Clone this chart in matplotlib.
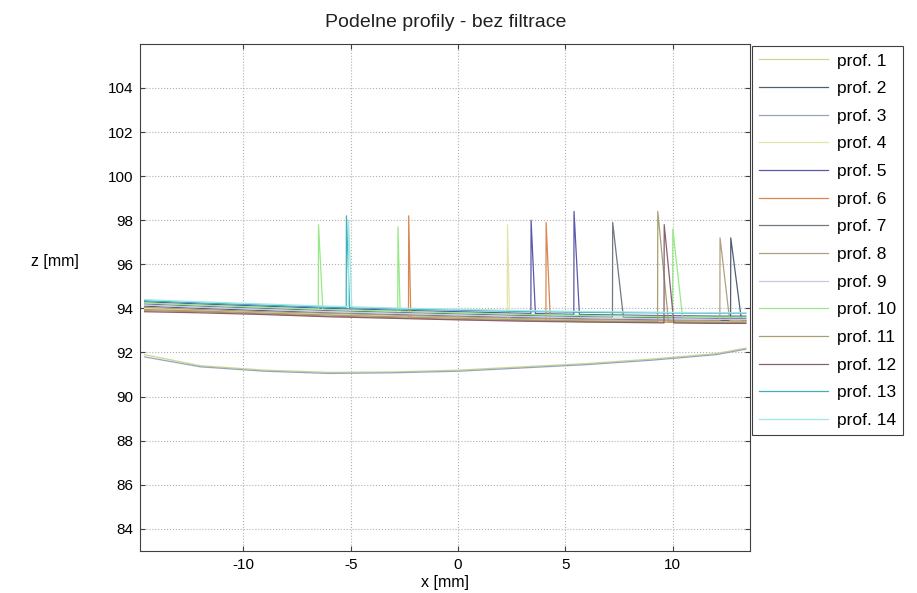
import numpy as np
import matplotlib
matplotlib.use("Agg")
import matplotlib.pyplot as plt

plt.rcParams["font.family"] = ["Liberation Sans", "DejaVu Sans"]
plt.rcParams["axes.unicode_minus"] = False

# common x grid of the base profiles [mm]
X_GRID = [-14.6, -12.0, -9.0, -6.0, -3.0, 0.0, 3.0, 6.0, 9.0, 12.0, 13.4]

# base heights z [mm] per profile
Z_BASE = {
    "prof. 1":  [91.90, 91.40, 91.20, 91.10, 91.12, 91.20, 91.35, 91.50, 91.70, 91.95, 92.20],
    "prof. 2":  [94.10, 94.00, 93.90, 93.80, 93.72, 93.65, 93.58, 93.52, 93.48, 93.45, 93.45],
    "prof. 3":  [91.80, 91.35, 91.15, 91.05, 91.08, 91.15, 91.30, 91.45, 91.65, 91.90, 92.15],
    "prof. 4":  [94.00, 93.90, 93.80, 93.72, 93.65, 93.58, 93.50, 93.45, 93.40, 93.38, 93.40],
    "prof. 5":  [94.30, 94.20, 94.10, 94.00, 93.92, 93.85, 93.78, 93.72, 93.68, 93.65, 93.65],
    "prof. 6":  [93.90, 93.85, 93.75, 93.65, 93.58, 93.50, 93.45, 93.40, 93.38, 93.35, 93.35],
    "prof. 7":  [94.20, 94.10, 94.00, 93.90, 93.82, 93.75, 93.68, 93.62, 93.58, 93.55, 93.55],
    "prof. 8":  [94.05, 93.95, 93.85, 93.78, 93.70, 93.62, 93.55, 93.50, 93.46, 93.44, 93.44],
    "prof. 9":  [94.15, 94.05, 93.95, 93.85, 93.78, 93.70, 93.63, 93.58, 93.54, 93.50, 93.50],
    "prof. 10": [94.25, 94.15, 94.05, 93.95, 93.88, 93.80, 93.73, 93.68, 93.64, 93.60, 93.60],
    "prof. 11": [93.95, 93.88, 93.78, 93.70, 93.62, 93.55, 93.48, 93.43, 93.40, 93.38, 93.38],
    "prof. 12": [93.85, 93.80, 93.72, 93.62, 93.55, 93.48, 93.42, 93.38, 93.35, 93.32, 93.32],
    "prof. 13": [94.35, 94.25, 94.15, 94.05, 93.98, 93.92, 93.86, 93.82, 93.80, 93.78, 93.78],
    "prof. 14": [94.40, 94.30, 94.20, 94.10, 94.02, 93.96, 93.90, 93.86, 93.83, 93.80, 93.80],
}

# spikes: (x at top, z at top, x at base)
SPIKES = {
    "prof. 2":  [(12.70, 97.2, 13.20)],
    "prof. 4":  [(2.30, 97.8, 2.40)],
    "prof. 5":  [(3.40, 98.0, 3.60), (5.40, 98.4, 5.65)],
    "prof. 6":  [(-2.30, 98.2, -2.20), (4.10, 97.9, 4.30)],
    "prof. 7":  [(7.20, 97.9, 7.70)],
    "prof. 8":  [(12.20, 97.2, 12.65)],
    "prof. 10": [(-6.50, 97.8, -6.30), (-2.80, 97.7, -2.70), (10.00, 97.6, 10.45)],
    "prof. 11": [(9.30, 98.4, 9.80)],
    "prof. 12": [(9.60, 97.8, 10.05)],
    "prof. 13": [(-5.20, 98.2, -5.05)],
    "prof. 14": [(-5.10, 98.0, -4.95)],
}

COLORS = {
    "prof. 1": "#c8d890", "prof. 2": "#506070", "prof. 3": "#9aa4b8",
    "prof. 4": "#e4e4a8", "prof. 5": "#5a58a8", "prof. 6": "#d88850",
    "prof. 7": "#707880", "prof. 8": "#b0a080", "prof. 9": "#c8c8ec",
    "prof. 10": "#98e888", "prof. 11": "#a8a070", "prof. 12": "#886070",
    "prof. 13": "#40b0b8", "prof. 14": "#a0e8e8",
}


def build_profile(name):
    xs = list(X_GRID)
    zs = list(Z_BASE[name])
    for (xt, zt, xb) in SPIKES.get(name, []):
        zb = float(np.interp(xb, X_GRID, Z_BASE[name]))
        zl = float(np.interp(xt, X_GRID, Z_BASE[name]))
        i = int(np.searchsorted(xs, xt))
        xs[i:i] = [xt - 0.01, xt, xb]
        zs[i:i] = [zl, zt, zb]
    return xs, zs


fig = plt.figure(figsize=(9.17, 5.93), dpi=100)
ax = fig.add_axes([0.153, 0.071, 0.665, 0.855])

for name in Z_BASE:
    xs, zs = build_profile(name)
    ax.plot(xs, zs, "-", color=COLORS[name], lw=0.9, label=name)

ax.set_xlim(-14.8, 13.6)
ax.set_ylim(83.0, 106.0)
ax.set_xticks([-10, -5, 0, 5, 10])
ax.set_yticks(np.arange(84, 105, 2))
ax.grid(True, ls=":", color="#b0b0b0", lw=0.8)
ax.tick_params(direction="in", top=True, right=True, labelsize=11, color="#404040", pad=5)
for s in ax.spines.values():
    s.set_color("#404040")
    s.set_linewidth(0.8)

ax.set_title("Podelne profily - bez filtrace", fontsize=14, pad=12, color="#202020")
ax.set_xlabel("x [mm]", fontsize=11.5, labelpad=2)
ax.set_ylabel("z [mm]", fontsize=11.5, rotation=0, ha="center", va="center")
ax.yaxis.set_label_coords(-0.14, 0.57)

leg = ax.legend(loc="upper left", bbox_to_anchor=(1.003, 0.995), borderaxespad=0,
                fontsize=12.5, handlelength=4, handletextpad=0.5, labelspacing=0.72,
                fancybox=False, framealpha=1, edgecolor="#404040")
leg.get_frame().set_linewidth(0.8)

fig.savefig("out.png", dpi=100)
